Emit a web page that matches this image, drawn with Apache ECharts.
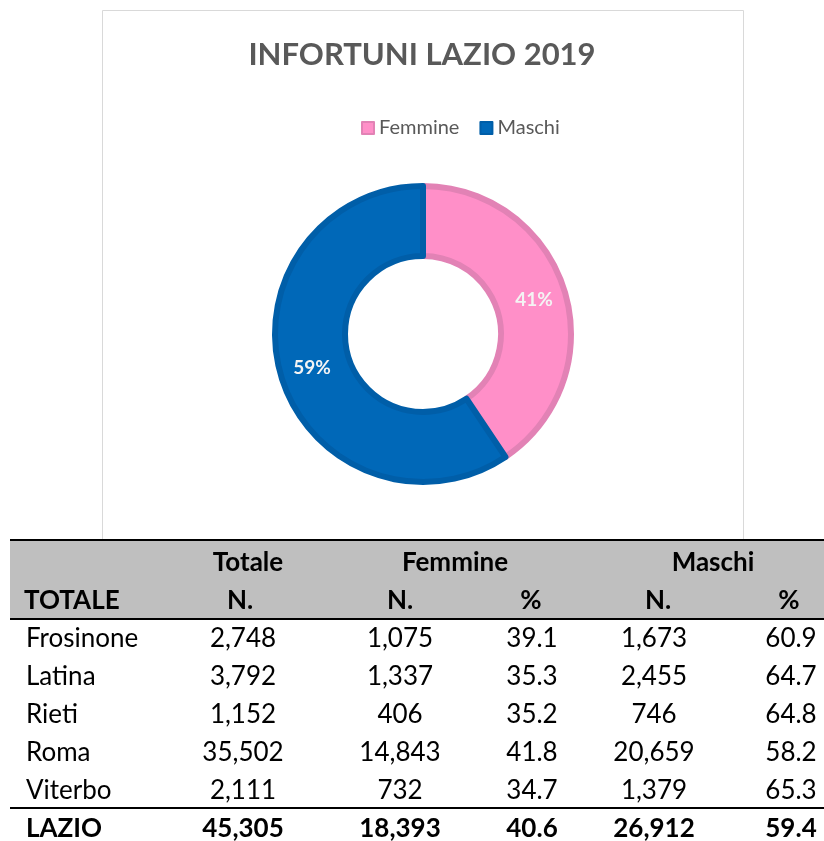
<!DOCTYPE html>
<html>
<head>
<meta charset="utf-8">
<script src="https://cdn.jsdelivr.net/npm/echarts@6/dist/echarts.min.js"></script>
<style>
  html, body { margin: 0; padding: 0; background: #fff; }
  #chart1 { width: 824px; height: 841px; }
</style>
</head>
<body>
<div id="chart1"></div>
<script>
var genders = ['Femmine', 'Maschi'];
var lazioTotals = [18393, 26912];

var provinces = ['Frosinone', 'Latina', 'Rieti', 'Roma', 'Viterbo'];
var totale = [2748, 3792, 1152, 35502, 2111];
var femmineN = [1075, 1337, 406, 14843, 732];
var femminePct = [39.1, 35.3, 35.2, 41.8, 34.7];
var maschiN = [1673, 2455, 746, 20659, 1379];
var maschiPct = [60.9, 64.7, 64.8, 58.2, 65.3];
var lazioRow = ['LAZIO', 45305, 18393, 40.6, 26912, 59.4];

var FONT = 'Lato';
var colX = [243, 400, 532, 654, 791];

function fmtN(v) { return v.toLocaleString('en-US'); }
function fmtP(v) { return v.toFixed(1); }

function txt(x, y, s, bold, align) {
    return {
        type: 'text', x: x, y: y,
        style: {
            text: s, fill: '#000', fontFamily: FONT, fontSize: 26,
            fontWeight: bold ? 'bold' : 'normal',
            align: align || 'center', verticalAlign: 'middle'
        }
    };
}

var graphics = [
    { type: 'rect', shape: { x: 102.5, y: 10.5, width: 641, height: 529 },
      style: { fill: '#fff', stroke: '#d9d9d9', lineWidth: 1 }, z: -10 },
    { type: 'rect', shape: { x: 10, y: 540, width: 814, height: 79 }, style: { fill: '#bfbfbf' } },
    { type: 'line', shape: { x1: 10, y1: 540, x2: 824, y2: 540 }, style: { stroke: '#000', lineWidth: 2 } },
    { type: 'line', shape: { x1: 10, y1: 619, x2: 824, y2: 619 }, style: { stroke: '#000', lineWidth: 2 } },
    { type: 'line', shape: { x1: 10, y1: 808, x2: 824, y2: 808 }, style: { stroke: '#000', lineWidth: 2 } },
    txt(248, 563, 'Totale', true),
    txt(455, 563, 'Femmine', true),
    txt(713, 563, 'Maschi', true),
    txt(24, 601, 'TOTALE', true, 'left'),
    txt(240, 601, 'N.', true),
    txt(400, 601, 'N.', true),
    txt(531, 601, '%', true),
    txt(658, 601, 'N.', true),
    txt(789, 601, '%', true)
];

provinces.forEach(function (p, i) {
    var y = 639 + i * 38;
    graphics.push(txt(26, y, p, false, 'left'));
    var vals = [fmtN(totale[i]), fmtN(femmineN[i]), fmtP(femminePct[i]), fmtN(maschiN[i]), fmtP(maschiPct[i])];
    vals.forEach(function (v, j) { graphics.push(txt(colX[j], y, v, false)); });
});
graphics.push(txt(26, 829, lazioRow[0], true, 'left'));
[fmtN(lazioRow[1]), fmtN(lazioRow[2]), fmtP(lazioRow[3]), fmtN(lazioRow[4]), fmtP(lazioRow[5])].forEach(function (v, j) {
    graphics.push(txt(colX[j], 829, v, true));
});

var myChart = echarts.init(document.getElementById('chart1'));

option = {
    animation: false,
    title: {
        text: 'INFORTUNI LAZIO 2019',
        left: 417,
        textAlign: 'center',
        top: 34,
        textStyle: { fontFamily: FONT, fontSize: 31, fontWeight: 'bold', color: '#595959' }
    },
    legend: {
        data: genders,
        top: 113,
        left: 356,
        icon: 'rect',
        itemWidth: 12,
        itemHeight: 12,
        itemGap: 20,
        textStyle: { fontFamily: FONT, fontSize: 20, color: '#595959' }
    },
    graphic: graphics,
    series: [{
        type: 'pie',
        center: [423, 334],
        radius: [78, 148],
        startAngle: 90,
        clockwise: true,
        label: {
            show: true,
            position: 'inside',
            formatter: function (p) { return Math.round(p.percent) + '%'; },
            color: '#f4f4f4',
            fontFamily: FONT,
            fontSize: 19,
            fontWeight: 'bold'
        },
        labelLine: { show: false },
        emphasis: { disabled: true },
        data: [
            { name: genders[0], value: lazioTotals[0],
              itemStyle: { color: '#ff8fc8', borderColor: '#e282b5', borderWidth: 6 } },
            { name: genders[1], value: lazioTotals[1],
              itemStyle: { color: '#0068b8', borderColor: '#005ea8', borderWidth: 6 } }
        ]
    }]
};
myChart.setOption(option);
window.onresize = myChart.resize;
</script>
</body>
</html>
